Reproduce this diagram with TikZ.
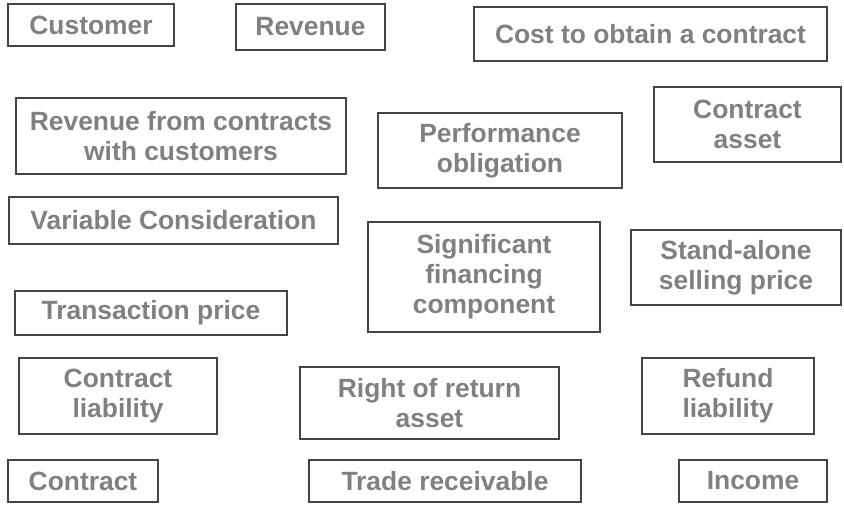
\documentclass[tikz,border=0pt]{standalone}
\usepackage{fontspec}
\setmainfont{Liberation Sans}
\usepackage{xcolor}
\definecolor{boxline}{HTML}{444444}
\definecolor{boxtext}{HTML}{808080}

\tikzset{
  term/.style={draw=boxline, line width=2pt, text=boxtext, inner sep=0pt,
    align=center, font=\fontsize{26.4}{30}\selectfont\bfseries}
}

\begin{document}
\begin{tikzpicture}[x=1pt,y=-1pt]
    \useasboundingbox (0,0) rectangle (844,504);

    % top row
    \node[term, minimum width=166, minimum height=42] (customer) at (91,25) {Customer};
    \node[term, minimum width=149, minimum height=46] (revenue) at (310.5,27) {Revenue};
    \node[term, minimum width=353, minimum height=54] (costcontract) at (650.5,34) {Cost to obtain a contract};

    % second row
    \node[term, minimum width=330, minimum height=76] (revcontracts) at (181,136) {Revenue from contracts\\with customers};
    \node[term, minimum width=244, minimum height=75] (perfobl) at (500,150.5) {Performance\\obligation};
    \node[term, minimum width=187, minimum height=75] (contractasset) at (747.5,124.5) {Contract\\asset};

    % third row
    \node[term, minimum width=329, minimum height=47] (varcons) at (173.5,220.5) {Variable Consideration};
    \node[term, minimum width=232, minimum height=110] (sigfin) at (484,277) {Significant\\financing\\component};
    \node[term, minimum width=210, minimum height=75] (standalone) at (736,267.5) {Stand-alone\\selling price};
    \node[term, minimum width=272, minimum height=44] (transprice) at (151,313) {Transaction price};

    % fourth row
    \node[term, minimum width=198, minimum height=76] (contractliab) at (118,396) {Contract\\liability};
    \node[term, minimum width=259, minimum height=72] (rightreturn) at (429.5,403) {Right of return\\asset};
    \node[term, minimum width=172, minimum height=76] (refundliab) at (728,396) {Refund\\liability};

    % bottom row
    \node[term, minimum width=150, minimum height=42] (contract) at (83,481) {Contract};
    \node[term, minimum width=272, minimum height=42] (tradereceiv) at (445,481) {Trade receivable};
    \node[term, minimum width=148, minimum height=42] (income) at (753,481) {Income};
\end{tikzpicture}
\end{document}
